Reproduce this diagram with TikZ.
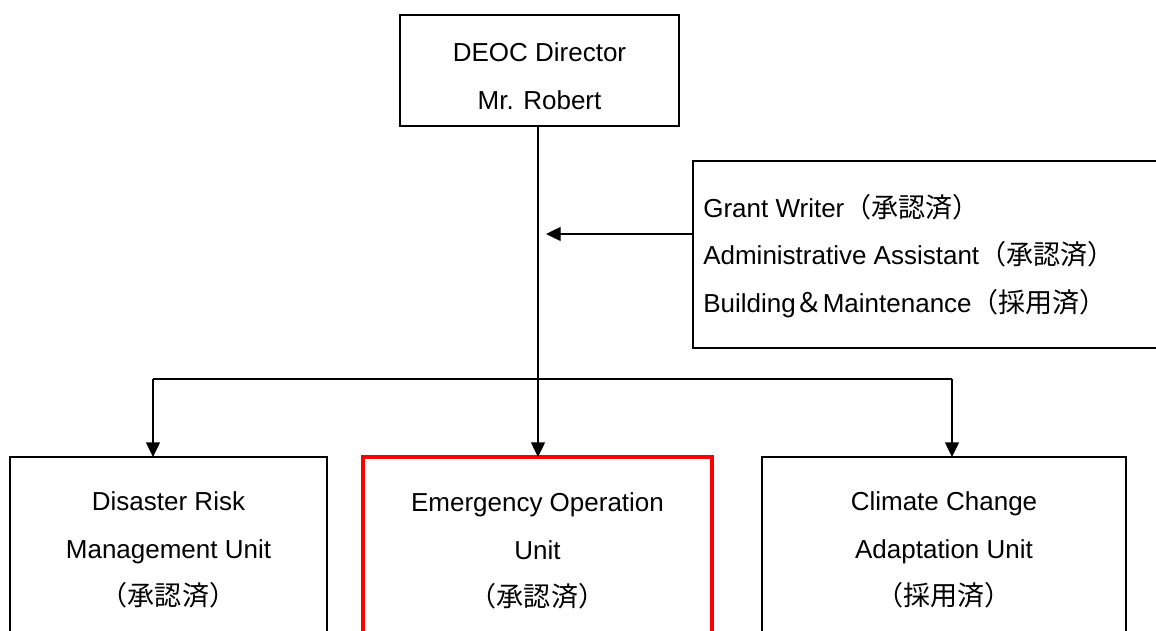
\documentclass[tikz,border=0pt]{standalone}
\usepackage{fontspec}
\setmainfont{Liberation Sans}
\newfontfamily\cjk[Scale=1.04]{Noto Sans CJK JP}
\usetikzlibrary{arrows.meta}
\tikzset{
  box/.style={draw=black, line width=1pt, inner sep=0pt, outer sep=0pt, rectangle},
  redbox/.style={draw=red, line width=3pt, inner sep=0pt, outer sep=0pt, rectangle},
  lbl/.style={inner sep=0pt, font=\fontsize{19.5pt}{35.8pt}\selectfont, align=center},
  conn/.style={draw=black, line width=1pt},
  arr/.style={conn, -{Triangle[length=11pt,width=10.5pt]}}
}
\begin{document}
\begin{tikzpicture}[x=0.75pt,y=-0.75pt]
\useasboundingbox (0,0) rectangle (1156,631);
\fill[white] (0,0) rectangle (1156,631);
\clip (0,0) rectangle (1156,631);
% boxes
\node[box, minimum width=209.25pt, minimum height=83.25pt] (top) at (539.5,70.5) {};
\node[box, minimum width=357.75pt, minimum height=140.25pt] (side) at (931.5,254.5) {};
\node[box, minimum width=237.75pt, minimum height=136.5pt] (drm) at (168.5,548) {};
\node[redbox, minimum width=261.75pt, minimum height=136.5pt] (eou) at (537.5,548) {};
\node[box, minimum width=273pt, minimum height=136.5pt] (cca) at (944,548) {};
% texts
\node[lbl] (ttop) at (539.5,76) {DEOC Director\\Mr. Robert};
\node[lbl, anchor=west, align=left] (tside) at (703,256) {Grant Writer{\cjk （承認済）}\\Administrative Assistant{\cjk （承認済）}\\Building{\cjk ＆}Maintenance{\cjk （採用済）}};
\node[lbl] (tdrm) at (168.5,550) {Disaster Risk\\Management Unit\\{\cjk （承認済）}};
\node[lbl] (teou) at (537.5,551) {Emergency Operation\\Unit\\{\cjk （承認済）}};
\node[lbl] (tcca) at (944,550) {Climate Change\\Adaptation Unit\\{\cjk （採用済）}};
% connectors
\coordinate (vx) at (538,126);
\coordinate (bl) at (153,379);
\coordinate (br) at (952,379);
\coordinate (sa) at (693,234);
\coordinate (ta) at (546,234);
\draw[arr] (vx) -- (vx |- eou.north);
\draw[conn] (bl) -- (br);
\draw[arr] (bl) -- (bl |- drm.north);
\draw[arr] (br) -- (br |- cca.north);
\draw[arr] (side.west |- sa) -- (ta);
\end{tikzpicture}
\end{document}
